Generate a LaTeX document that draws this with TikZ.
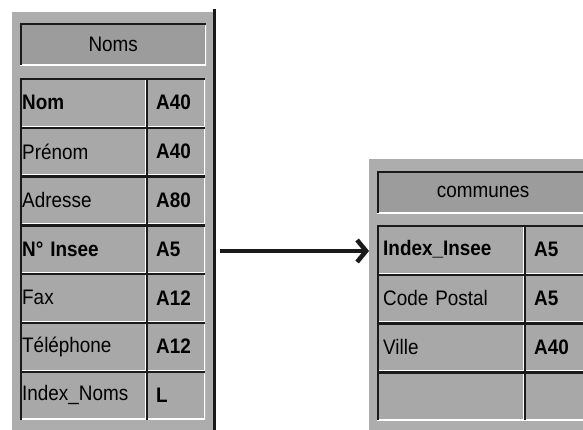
\documentclass[tikz,border=0pt]{standalone}
\usepackage{fontspec}
\setmainfont{Liberation Sans}[FakeStretch=0.9]
\usetikzlibrary{arrows.meta}
\definecolor{panelgray}{HTML}{ADADAD}
\definecolor{cellgray}{HTML}{A8A8A8}
\definecolor{titlegray}{HTML}{9C9C9C}
\definecolor{edgedark}{HTML}{1A1A1A}
\begin{document}
\begin{tikzpicture}[x=1pt,y=-1pt,
  font=\fontsize{21}{23}\selectfont,
  bevel/.style={path picture={
    \draw[white,line width=3pt] (path picture bounding box.south west) -- (path picture bounding box.south east) -- (path picture bounding box.north east);
    \draw[edgedark,line width=4pt] (path picture bounding box.south west) -- (path picture bounding box.north west) -- (path picture bounding box.north east);}},
  panel/.style={rectangle, anchor=north west, inner sep=0pt, fill=panelgray},
  titlebox/.style={rectangle, anchor=north west, inner sep=0pt, minimum height=42pt, fill=titlegray, bevel},
  cellbox/.style={rectangle, anchor=north west, inner ysep=0pt, minimum height=48.8pt, fill=cellgray, bevel, align=left},
  lname/.style={cellbox, inner xsep=2pt, text width=122pt},
  ltype/.style={cellbox, inner xsep=10pt, text width=39pt, font=\fontsize{21}{23}\selectfont\bfseries},
  rname/.style={cellbox, inner xsep=6pt, text width=135pt},
  rtype/.style={cellbox, inner xsep=10pt, text width=48pt, font=\fontsize{21}{23}\selectfont\bfseries},
  bold/.style={font=\fontsize{21}{23}\selectfont\bfseries},
  link/.style={edgedark, line width=4.5pt, -{Straight Barb[length=9pt,width=22pt]}}
]
\useasboundingbox (0,0) rectangle (583,429);
\clip (0,0) rectangle (583,429);

% left table
\node[panel, minimum width=201pt, minimum height=425pt] (lpanel) at (12,12) {};
\draw[edgedark, line width=3pt] ([xshift=1.5pt,yshift=3pt]lpanel.north east) -- ([xshift=1.5pt]lpanel.south east);
\node[titlebox, minimum width=186pt] (ltitle) at (20,23) {Noms};

\node[lname, bold] (n1) at (20,78) {Nom};
\node[ltype] (t1) at (146,78) {A40};
\node[lname] (n2) at (20,126.8) {Prénom};
\node[ltype] (t2) at (146,126.8) {A40};
\node[lname] (n3) at (20,175.6) {Adresse};
\node[ltype] (t3) at (146,175.6) {A80};
\node[lname, bold] (n4) at (20,224.4) {N° Insee};
\node[ltype] (t4) at (146,224.4) {A5};
\node[lname] (n5) at (20,273.2) {Fax};
\node[ltype] (t5) at (146,273.2) {A12};
\node[lname] (n6) at (20,322) {Téléphone};
\node[ltype] (t6) at (146,322) {A12};
\node[lname] (n7) at (20,370.8) {Index\_Noms};
\node[ltype] (t7) at (146,370.8) {L};

% right table
\node[panel, minimum width=230pt, minimum height=280pt] (rpanel) at (369,159) {};
\node[titlebox, minimum width=212pt] (rtitle) at (377,171) {communes};

\node[rname, bold] (r1) at (377,225) {Index\_Insee};
\node[rtype] (s1) at (524,225) {A5};
\node[rname] (r2) at (377,273.8) {Code Postal};
\node[rtype] (s2) at (524,273.8) {A5};
\node[rname] (r3) at (377,322.6) {Ville};
\node[rtype] (s3) at (524,322.6) {A40};
\node[rname] (r4) at (377,371.4) {};
\node[rtype] (s4) at (524,371.4) {};

% link
\coordinate (arrstart) at (220,251);
\draw[link] (arrstart) -- (arrstart -| rpanel.west);
\end{tikzpicture}
\end{document}
